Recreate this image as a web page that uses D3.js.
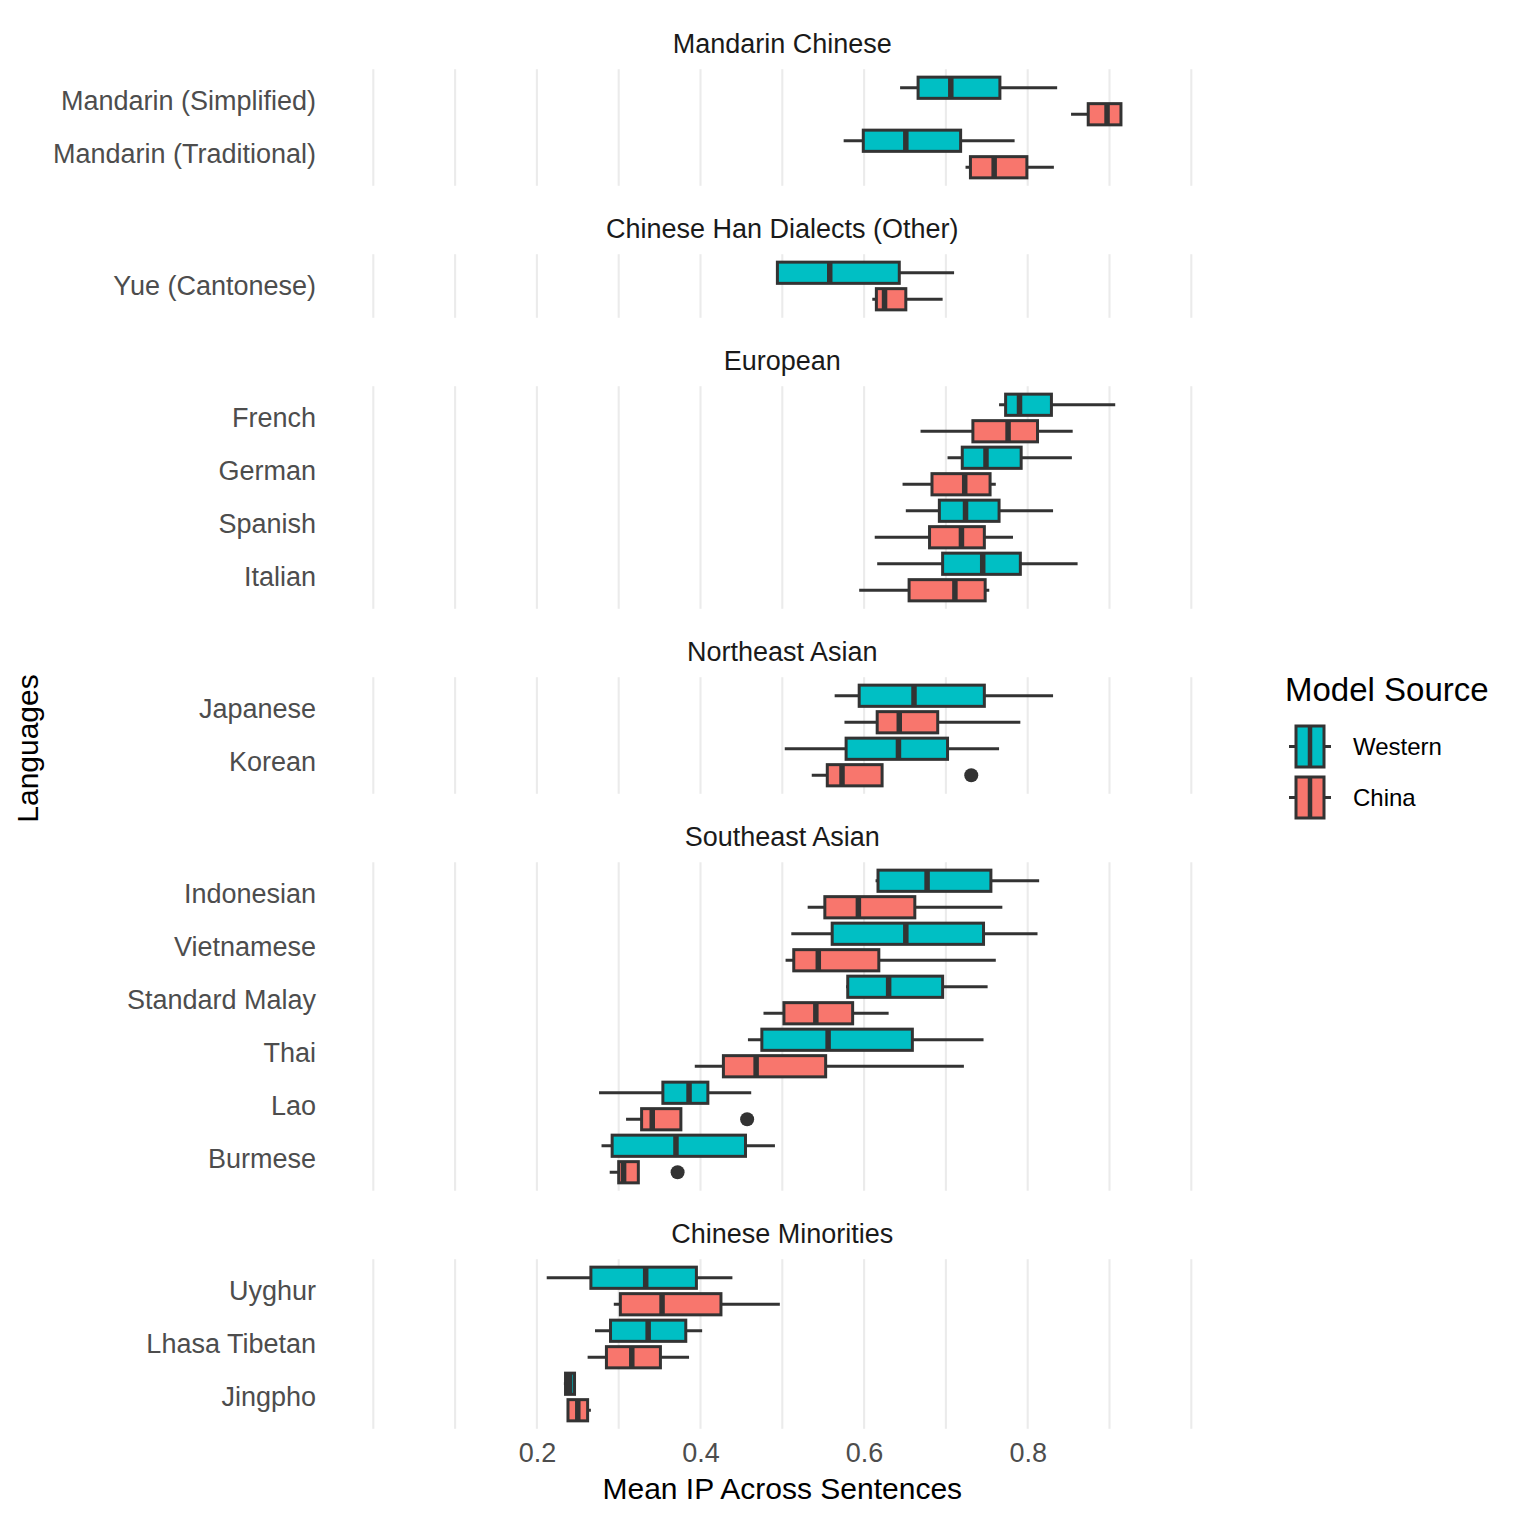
<!DOCTYPE html>
<html>
<head>
<meta charset="utf-8">
<script src="https://cdn.jsdelivr.net/npm/d3@7"></script>
<style>
  body { margin: 0; background: #fff; }
  text { font-family: "Liberation Sans", Arial, sans-serif; }
</style>
</head>
<body>
<svg id="chart" width="1522" height="1522"></svg>
<script>
// facets, top to bottom
var facets = ["Mandarin Chinese", "Chinese Han Dialects (Other)", "European",
              "Northeast Asian", "Southeast Asian", "Chinese Minorities"];

var languages = ["Mandarin (Simplified)", "Mandarin (Traditional)",
                 "Yue (Cantonese)",
                 "French", "German", "Spanish", "Italian",
                 "Japanese", "Korean",
                 "Indonesian", "Vietnamese", "Standard Malay", "Thai", "Lao", "Burmese",
                 "Uyghur", "Lhasa Tibetan", "Jingpho"];
var languageFacet = [0, 0, 1, 2, 2, 2, 2, 3, 3, 4, 4, 4, 4, 4, 4, 5, 5, 5];

var series = ["Western", "China"];
var seriesColors = ["#00BFC4", "#F8766D"];

// [lower whisker, q1, median, q3, upper whisker]
var westernStats = [
  [0.644, 0.666, 0.706, 0.766, 0.836],
  [0.575, 0.599, 0.651, 0.718, 0.784],
  [0.494, 0.494, 0.558, 0.643, 0.710],
  [0.765, 0.773, 0.790, 0.829, 0.907],
  [0.702, 0.720, 0.749, 0.792, 0.854],
  [0.651, 0.692, 0.724, 0.765, 0.831],
  [0.616, 0.696, 0.745, 0.791, 0.861],
  [0.564, 0.594, 0.661, 0.747, 0.831],
  [0.503, 0.578, 0.642, 0.702, 0.765],
  [0.614, 0.617, 0.677, 0.755, 0.814],
  [0.511, 0.561, 0.651, 0.746, 0.812],
  [0.578, 0.580, 0.630, 0.696, 0.751],
  [0.458, 0.475, 0.556, 0.659, 0.746],
  [0.276, 0.354, 0.386, 0.409, 0.462],
  [0.279, 0.292, 0.370, 0.455, 0.491],
  [0.212, 0.266, 0.333, 0.395, 0.439],
  [0.271, 0.290, 0.336, 0.382, 0.402],
  [0.233, 0.235, 0.240, 0.246, 0.246]
];
var chinaStats = [
  [0.853, 0.874, 0.897, 0.914, 0.914],
  [0.724, 0.730, 0.759, 0.799, 0.832],
  [0.610, 0.615, 0.625, 0.651, 0.696],
  [0.669, 0.733, 0.776, 0.812, 0.855],
  [0.647, 0.683, 0.723, 0.754, 0.761],
  [0.613, 0.680, 0.719, 0.747, 0.782],
  [0.594, 0.655, 0.711, 0.748, 0.753],
  [0.576, 0.616, 0.643, 0.690, 0.791],
  [0.536, 0.555, 0.573, 0.622, 0.622],
  [0.531, 0.552, 0.593, 0.662, 0.769],
  [0.504, 0.514, 0.544, 0.618, 0.761],
  [0.477, 0.502, 0.541, 0.586, 0.630],
  [0.393, 0.428, 0.468, 0.553, 0.722],
  [0.309, 0.328, 0.341, 0.376, 0.376],
  [0.289, 0.300, 0.306, 0.324, 0.324],
  [0.294, 0.302, 0.353, 0.425, 0.497],
  [0.262, 0.285, 0.316, 0.351, 0.386],
  [0.238, 0.238, 0.250, 0.262, 0.266]
];
// outliers: [language, value]
var westernOutliers = [];
var chinaOutliers = [["Korean", 0.731], ["Lao", 0.457], ["Burmese", 0.372]];

var xTicks = [0.2, 0.4, 0.6, 0.8];
var xGrid = d3.range(0, 1.0001, 0.1);

var svg = d3.select("#chart");
var dark = "#333333";
var lw = 3;

var x = d3.scaleLinear().domain([-0.05, 1.05]).range([332.4, 1232.2]);

var step = 53;          // px per language row
var panelGap = 68.4;    // strip + spacing between panels
var top0 = 69.2;

// build the panels
var panels = [];
var cursor = top0;
facets.forEach(function(f, i) {
  var langs = languages.filter(function(l, j) { return languageFacet[j] === i; });
  var h = step * (langs.length - 1 + 1.2);
  var y = d3.scalePoint().domain(langs).range([cursor, cursor + h]).padding(0.6);
  panels.push({ name: f, langs: langs, top: cursor, bottom: cursor + h, y: y });
  cursor += h + panelGap;
});

panels.forEach(function(p) {
  var g = svg.append("g");

  g.selectAll(".grid")
    .data(xGrid)
    .enter().append("line")
      .attr("x1", function(d) { return x(d); })
      .attr("x2", function(d) { return x(d); })
      .attr("y1", p.top).attr("y2", p.bottom)
      .attr("stroke", "#EBEBEB").attr("stroke-width", 2.1);

  g.append("text")
    .attr("x", (x.range()[0] + x.range()[1]) / 2)
    .attr("y", p.top - 25.5)
    .attr("dy", "0.35em")
    .attr("text-anchor", "middle")
    .attr("fill", "#1A1A1A")
    .style("font-size", "27px")
    .text(p.name);

  g.selectAll(".ylab")
    .data(p.langs)
    .enter().append("text")
      .attr("x", 316)
      .attr("y", function(d) { return p.y(d); })
      .attr("dy", "0.35em")
      .attr("text-anchor", "end")
      .attr("fill", "#4D4D4D")
      .style("font-size", "27px")
      .text(function(d) { return d; });

  var stp = p.y.step();
  var bh = 0.4 * stp;

  series.forEach(function(s, si) {
    var stats = si === 0 ? westernStats : chinaStats;
    var rows = p.langs.map(function(l) {
      return { lang: l, v: stats[languages.indexOf(l)] };
    });
    var off = (si === 0 ? -0.25 : 0.25) * stp;
    var cy = function(d) { return p.y(d.lang) + off; };

    var bx = g.selectAll(".box" + si).data(rows).enter().append("g");
    bx.append("line")
      .attr("x1", function(d) { return x(d.v[0]); })
      .attr("x2", function(d) { return x(d.v[1]); })
      .attr("y1", cy).attr("y2", cy)
      .attr("stroke", dark).attr("stroke-width", lw);
    bx.append("line")
      .attr("x1", function(d) { return x(d.v[3]); })
      .attr("x2", function(d) { return x(d.v[4]); })
      .attr("y1", cy).attr("y2", cy)
      .attr("stroke", dark).attr("stroke-width", lw);
    bx.append("rect")
      .attr("x", function(d) { return x(d.v[1]); })
      .attr("width", function(d) { return x(d.v[3]) - x(d.v[1]); })
      .attr("y", function(d) { return cy(d) - bh / 2; })
      .attr("height", bh)
      .attr("fill", seriesColors[si])
      .attr("stroke", dark).attr("stroke-width", lw);
    bx.append("line")
      .attr("x1", function(d) { return x(d.v[2]); })
      .attr("x2", function(d) { return x(d.v[2]); })
      .attr("y1", function(d) { return cy(d) - bh / 2; })
      .attr("y2", function(d) { return cy(d) + bh / 2; })
      .attr("stroke", dark).attr("stroke-width", 5.5);

    var outs = (si === 0 ? westernOutliers : chinaOutliers)
      .filter(function(o) { return p.langs.indexOf(o[0]) >= 0; });
    g.selectAll(".out" + si).data(outs).enter().append("circle")
      .attr("cx", function(d) { return x(d[1]); })
      .attr("cy", function(d) { return p.y(d[0]) + off; })
      .attr("r", 7)
      .attr("fill", dark);
  });
});

// x axis labels (no axis line, no ticks)
var last = panels[panels.length - 1];
var xAxis = svg.append("g")
  .attr("transform", "translate(0," + (last.bottom + 14) + ")")
  .call(d3.axisBottom(x).tickValues(xTicks).tickSize(0).tickPadding(0)
    .tickFormat(d3.format(".1f")));
xAxis.select(".domain").remove();
xAxis.selectAll("text")
  .attr("fill", "#4D4D4D")
  .attr("dy", "0.71em")
  .style("font-size", "27px")
  .style("font-family", "'Liberation Sans', Arial, sans-serif");

svg.append("text")
  .attr("x", (x.range()[0] + x.range()[1]) / 2)
  .attr("y", 1499)
  .attr("text-anchor", "middle")
  .attr("fill", "#000")
  .style("font-size", "30px")
  .text("Mean IP Across Sentences");

svg.append("text")
  .attr("transform", "translate(38,748.5) rotate(-90)")
  .attr("text-anchor", "middle")
  .attr("fill", "#000")
  .style("font-size", "30px")
  .text("Languages");

// legend
var legend = svg.append("g");
legend.append("text")
  .attr("x", 1285).attr("y", 689).attr("dy", "0.35em")
  .style("font-size", "33px")
  .text("Model Source");

var keys = legend.selectAll(".key").data(series).enter().append("g")
  .attr("transform", function(d, i) { return "translate(1310," + (746.5 + i * 51) + ")"; });
keys.append("line").attr("x1", -21).attr("x2", 21).attr("y1", 0).attr("y2", 0)
  .attr("stroke", dark).attr("stroke-width", lw);
keys.append("rect").attr("x", -14).attr("y", -20.5).attr("width", 28).attr("height", 41)
  .attr("fill", function(d, i) { return seriesColors[i]; })
  .attr("stroke", dark).attr("stroke-width", lw);
keys.append("line").attr("x1", 0).attr("x2", 0).attr("y1", -20.5).attr("y2", 20.5)
  .attr("stroke", dark).attr("stroke-width", 4.5);
keys.append("text")
  .attr("x", 43).attr("y", 0).attr("dy", "0.35em")
  .style("font-size", "24px")
  .text(function(d) { return d; });
</script>
</body>
</html>
